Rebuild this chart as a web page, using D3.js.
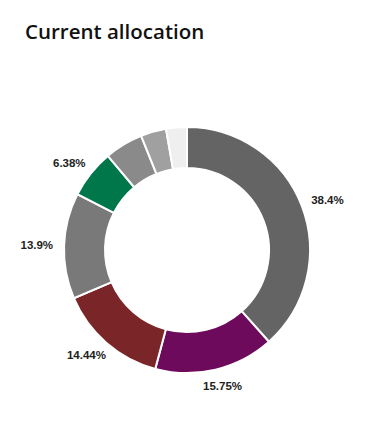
<!DOCTYPE html>
<html>
<head>
<meta charset="utf-8">
<script src="https://cdn.jsdelivr.net/npm/d3@7"></script>
<style>
  body { margin: 0; background: #fff; }
  svg { display: block; }
</style>
</head>
<body>
<div id="chart"></div>
<script>
// Allocation slices, clockwise from 12 o'clock
var slices = ["A", "B", "C", "D", "E", "F", "G", "H"];
var shares = [38.4, 15.75, 14.44, 13.9, 6.38, 5.05, 3.35, 2.73];
var colours = ["#646464", "#6e0a5b", "#7a2528", "#797979", "#00774a", "#8a8a8a", "#a0a0a0", "#efefef"];
var showLabel = [true, true, true, true, true, false, false, false];

var width = 372, height = 439;
var cx = 187, cy = 250;
var outerR = 123, innerR = 82, labelR = 134;

var svg = d3.select("#chart").append("svg")
    .attr("width", width)
    .attr("height", height);

svg.append("text")
    .attr("x", 25)
    .attr("y", 39)
    .attr("font-family", "'Open Sans', sans-serif")
    .attr("font-weight", 600)
    .attr("font-size", "20.5px")
    .attr("fill", "#111")
    .text("Current allocation");

var data = slices.map(function (s, i) {
    return { name: s, value: shares[i], colour: colours[i], label: showLabel[i] };
});

var pie = d3.pie()
    .sort(null)
    .value(function (d) { return d.value; });

var arc = d3.arc()
    .innerRadius(innerR)
    .outerRadius(outerR);

var g = svg.append("g")
    .attr("transform", "translate(" + cx + "," + cy + ")");

var arcs = pie(data);

g.selectAll(".slice")
    .data(arcs)
    .enter().append("path")
    .attr("class", "slice")
    .attr("d", arc)
    .attr("fill", function (d) { return d.data.colour; })
    .attr("stroke", "#fff")
    .attr("stroke-width", 2);

// labels sit just outside the ring, pushed out by half their box
var labelH = 11;
g.selectAll(".lbl")
    .data(arcs.filter(function (d) { return d.data.label; }))
    .enter().append("text")
    .attr("class", "lbl")
    .attr("font-family", "'Liberation Sans', Arial, sans-serif")
    .attr("font-weight", "bold")
    .attr("font-size", "11.5px")
    .attr("fill", "#222")
    .attr("text-anchor", "middle")
    .attr("dominant-baseline", "central")
    .text(function (d) { return d.data.value + "%"; })
    .each(function (d) {
        var a = (d.startAngle + d.endAngle) / 2;
        var w = this.getComputedTextLength();
        var x = labelR * Math.sin(a) + Math.sin(a) * w / 2;
        var y = -labelR * Math.cos(a) - Math.cos(a) * labelH / 2;
        d3.select(this).attr("x", x).attr("y", y);
    });
</script>
</body>
</html>
